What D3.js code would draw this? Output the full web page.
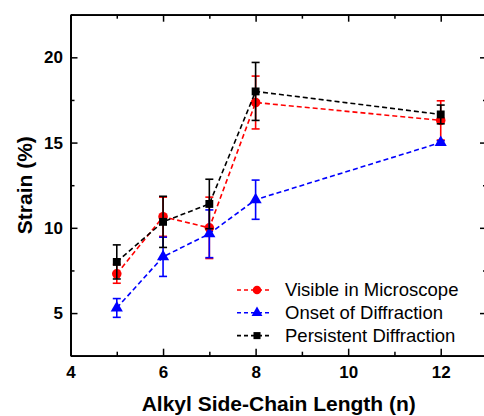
<!DOCTYPE html>
<html>
<head>
<meta charset="utf-8">
<script src="https://cdnjs.cloudflare.com/ajax/libs/d3/7.8.5/d3.min.js"></script>
<style>
  html, body { margin: 0; padding: 0; background: #fff; }
  svg { display: block; font-family: Arial, "Liberation Sans", sans-serif; }
</style>
</head>
<body>
<div id="chart"></div>
<script>
// chain length n
var chainLength = [5, 6, 7, 8, 12];

var visibleStrain = [7.3, 10.65, 10.0, 17.35, 16.3];
var visibleErr    = [0.55, 1.15, 1.8, 1.55, 1.15];

var onsetStrain = [5.3, 8.3, 9.65, 11.65, 15.0];
var onsetErr    = [0.55, 1.15, 1.4, 1.15, 0.1];

var persistStrain = [8.0, 10.35, 11.4, 18.0, 16.65];
var persistErr    = [1.0, 1.5, 1.45, 1.7, 0.55];

var seriesNames = ["Visible in Microscope", "Onset of Diffraction", "Persistent Diffraction"];

var xTicks = [4, 6, 8, 10, 12];
var yTicks = [5, 10, 15, 20];

var
  width = 484,
  height = 416,
  margin = {left: 70.5, top: 14.7, right: -3, bottom: 60.3},
  w = width - margin.left - margin.right,
  h = height - margin.top - margin.bottom;

var x = d3.scaleLinear().domain([4, 13]).range([0, w]);
var y = d3.scaleLinear().domain([2.5, 22.5]).range([h, 0]);

var svg = d3.select("#chart")
  .append("svg")
  .attr("width", width)
  .attr("height", height);

var g = svg.append("g")
  .attr("transform", "translate(" + margin.left + "," + margin.top + ")");

var series = [
  {name: seriesNames[0], vals: visibleStrain, err: visibleErr, color: "#ff0000", shape: d3.symbolCircle, size: 72},
  {name: seriesNames[1], vals: onsetStrain,   err: onsetErr,   color: "#0000ff", shape: d3.symbolTriangle, size: 64},
  {name: seriesNames[2], vals: persistStrain, err: persistErr, color: "#000000", shape: d3.symbolSquare, size: 62}
];

var line = d3.line()
  .x(function(d){ return x(d.n); })
  .y(function(d){ return y(d.v); });

series.forEach(function(s){
  var pts = chainLength.map(function(n, i){ return {n: n, v: s.vals[i], e: s.err[i]}; });
  var sg = g.append("g");

  sg.append("path")
    .datum(pts)
    .attr("d", line)
    .attr("fill", "none")
    .attr("stroke", s.color)
    .attr("stroke-width", 1.6)
    .attr("stroke-dasharray", "5,3");

  var eb = sg.selectAll(".err").data(pts).enter().append("g")
    .attr("stroke", s.color)
    .attr("stroke-width", 1.6);
  eb.append("line")
    .attr("x1", function(d){ return x(d.n); })
    .attr("x2", function(d){ return x(d.n); })
    .attr("y1", function(d){ return y(d.v - d.e); })
    .attr("y2", function(d){ return y(d.v + d.e); });
  [-1, 1].forEach(function(sign){
    eb.append("line")
      .attr("x1", function(d){ return x(d.n) - 4; })
      .attr("x2", function(d){ return x(d.n) + 4; })
      .attr("y1", function(d){ return y(d.v + sign * d.e); })
      .attr("y2", function(d){ return y(d.v + sign * d.e); });
  });

  sg.selectAll(".pt").data(pts).enter().append("path")
    .attr("d", d3.symbol().type(s.shape).size(s.size))
    .attr("transform", function(d){ return "translate(" + x(d.n) + "," + y(d.v) + ")"; })
    .attr("fill", s.color);
});

// axes, ticks pointing inward on all four sides
function styleAxis(sel){
  sel.select(".domain").attr("stroke-width", 1.8);
  sel.selectAll(".tick line").attr("stroke-width", 1.5);
  sel.selectAll(".tick text")
    .attr("font-size", "17px")
    .attr("font-weight", "bold")
    .attr("fill", "#000");
}

var xMinor = [5, 7, 9, 11, 13];
var yMinor = [7.5, 12.5, 17.5, 22.5];

var bottom = g.append("g").attr("transform", "translate(0," + h + ")")
  .call(d3.axisBottom(x).tickValues(xTicks).tickSizeInner(-7).tickSizeOuter(0).tickPadding(10));
bottom.call(styleAxis);
g.append("g").attr("transform", "translate(0," + h + ")")
  .call(d3.axisBottom(x).tickValues(xMinor).tickSizeInner(-4).tickSizeOuter(0).tickFormat(""))
  .call(styleAxis);

var topAx = g.append("g")
  .call(d3.axisTop(x).tickValues(xTicks).tickSizeInner(-7).tickSizeOuter(0).tickFormat(""));
topAx.call(styleAxis);
g.append("g")
  .call(d3.axisTop(x).tickValues(xMinor).tickSizeInner(-4).tickSizeOuter(0).tickFormat(""))
  .call(styleAxis);

var left = g.append("g")
  .call(d3.axisLeft(y).tickValues(yTicks).tickSizeInner(-7).tickSizeOuter(0).tickPadding(7.5));
left.call(styleAxis);
g.append("g")
  .call(d3.axisLeft(y).tickValues(yMinor).tickSizeInner(-4).tickSizeOuter(0).tickFormat(""))
  .call(styleAxis);

g.append("g").attr("transform", "translate(" + w + ",0)")
  .call(d3.axisRight(y).tickValues(yTicks).tickSizeInner(-7).tickSizeOuter(0).tickFormat(""))
  .call(styleAxis);
g.append("g").attr("transform", "translate(" + w + ",0)")
  .call(d3.axisRight(y).tickValues(yMinor).tickSizeInner(-4).tickSizeOuter(0).tickFormat(""))
  .call(styleAxis);

// axis titles
svg.append("text")
  .attr("x", margin.left + w / 2)
  .attr("y", 411)
  .attr("text-anchor", "middle")
  .attr("font-size", "21px")
  .attr("font-weight", "bold")
  .text("Alkyl Side-Chain Length (n)");

svg.append("text")
  .attr("transform", "translate(32," + (margin.top + h / 2) + ") rotate(-90)")
  .attr("text-anchor", "middle")
  .attr("font-size", "21px")
  .attr("font-weight", "bold")
  .text("Strain (%)");

// legend
var legend = svg.append("g").attr("transform", "translate(237,290)");
series.forEach(function(s, i){
  var row = legend.append("g").attr("transform", "translate(0," + (i * 22.8) + ")");
  row.append("line")
    .attr("x1", 0).attr("x2", 35)
    .attr("stroke", s.color)
    .attr("stroke-width", 1.6)
    .attr("stroke-dasharray", "4,3");
  row.append("path")
    .attr("d", d3.symbol().type(s.shape).size(s.size * 0.8))
    .attr("transform", "translate(20,0)")
    .attr("fill", s.color);
  row.append("text")
    .attr("x", 48)
    .attr("dy", "0.35em")
    .attr("font-size", "18.5px")
    .text(s.name);
});
</script>
</body>
</html>
